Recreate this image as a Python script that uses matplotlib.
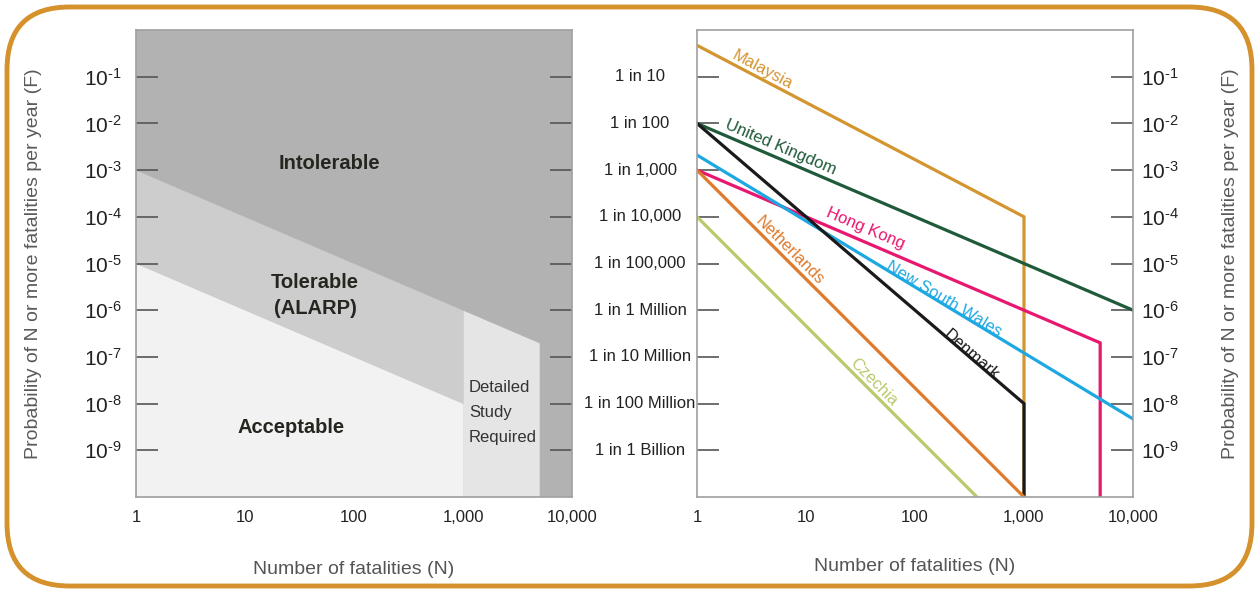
import matplotlib.pyplot as plt
from matplotlib.patches import FancyBboxPatch
from matplotlib.ticker import FixedLocator, NullLocator, NullFormatter

plt.rcParams['font.family'] = ['Liberation Sans', 'DejaVu Sans']
plt.rcParams['mathtext.fontset'] = 'custom'
plt.rcParams['mathtext.rm'] = 'Liberation Sans'
plt.rcParams['mathtext.it'] = 'Liberation Sans'
plt.rcParams['mathtext.bf'] = 'Liberation Sans:bold'

# ---- data ----
x_ticks = [1, 10, 100, 1000, 10000]
x_tick_labels = ['1', '10', '100', '1,000', '10,000']
y_ticks = [1e-1, 1e-2, 1e-3, 1e-4, 1e-5, 1e-6, 1e-7, 1e-8, 1e-9]
y_tick_labels = [r'10$^{\text{-%d}}$' % k for k in range(1, 10)]
odds_labels = ['1 in 10', '1 in 100', '1 in 1,000', '1 in 10,000', '1 in 100,000',
               '1 in 1 Million', '1 in 10 Million', '1 in 100 Million', '1 in 1 Billion']

# ALARP region boundaries (left panel)
tol_N = [1, 1000, 5000]
tol_F = [1e-3, 1e-6, 2e-7]
acc_N = [1, 1000]
acc_F = [1e-5, 1e-8]

# national criteria lines (right panel)
countries = ['Malaysia', 'United Kingdom', 'Hong Kong', 'New South Wales',
             'Denmark', 'Netherlands', 'Czechia']
line_N = {
    'Malaysia': [1, 1000, 1000],
    'United Kingdom': [1, 10000],
    'Hong Kong': [1, 5000, 5000],
    'New South Wales': [1, 10000],
    'Denmark': [1, 1000, 1000],
    'Netherlands': [1, 1000],
    'Czechia': [1, 370],
}
line_F = {
    'Malaysia': [0.47, 1e-4, 1e-10],
    'United Kingdom': [1e-2, 1e-6],
    'Hong Kong': [1e-3, 2e-7, 1e-10],
    'New South Wales': [2.1e-3, 4.7e-9],
    'Denmark': [1e-2, 1e-8, 1e-10],
    'Netherlands': [1e-3, 1e-10],
    'Czechia': [1e-4, 1e-10],
}
colors = {
    'Malaysia': '#d39530',
    'United Kingdom': '#1f5a3a',
    'Hong Kong': '#e8176f',
    'New South Wales': '#1ea8e2',
    'Denmark': '#1a1a1a',
    'Netherlands': '#de7a2c',
    'Czechia': '#b8ca6c',
}
# label position (N, F) and rotation
label_pos = {
    'Malaysia': (4.0, 0.14, -28),
    'United Kingdom': (5.9, 3.1e-3, -23),
    'Hong Kong': (35, 5.7e-5, -23),
    'New South Wales': (185, 1.7e-6, -31),
    'Denmark': (325, 1.1e-7, -41),
    'Netherlands': (7.1, 1.9e-5, -45),
    'Czechia': (42, 2.9e-8, -45),
}

W, H = 1256, 594
fig = plt.figure(figsize=(W / 100, H / 100), dpi=100)

# rounded orange frame
frame = FancyBboxPatch((7 / W, 8 / H), (W - 11) / W, (H - 15) / H,
                       boxstyle='round,pad=0,rounding_size=0.05',
                       transform=fig.transFigure, fill=False,
                       edgecolor='#d4912c', linewidth=3.5, clip_on=False,
                       mutation_aspect=W / H)
fig.patches.append(frame)

ax_bottom = (H - 497) / H
ax_h = 467 / H
ax1 = fig.add_axes([136 / W, ax_bottom, 436 / W, ax_h])
ax2 = fig.add_axes([697 / W, ax_bottom, 436 / W, ax_h])

for ax in (ax1, ax2):
    ax.set_xscale('log')
    ax.set_yscale('log')
    ax.set_xlim(1, 10000)
    ax.set_ylim(1e-10, 1)
    ax.xaxis.set_major_locator(FixedLocator(x_ticks))
    ax.set_xticklabels(x_tick_labels)
    ax.xaxis.set_minor_locator(FixedLocator(x_ticks[1:4]))
    ax.xaxis.set_minor_formatter(NullFormatter())
    ax.tick_params(axis='x', which='major', length=0, pad=9, labelsize=12, labelcolor='#222222')
    ax.tick_params(axis='x', which='minor', direction='in', length=15, width=1.5, color='#333333')
    ax.yaxis.set_major_locator(FixedLocator(y_ticks))
    ax.yaxis.set_minor_locator(NullLocator())
    ax.tick_params(axis='y', which='major', direction='in', length=16, width=1.2,
                   color='#555555', left=True, right=True, labelsize=15, labelcolor='#222222')
    for s in ax.spines.values():
        s.set_color('#a0a0a0')
        s.set_linewidth(1.2)
    ax.set_xlabel('Number of fatalities (N)', fontsize=14, color='#555555')

ax1.xaxis.set_label_coords(0.5, -0.136)
ax2.xaxis.set_label_coords(0.5, -0.13)

# ---- left panel: ALARP regions ----
ax1.set_facecolor('#b2b2b2')
ax1.fill_between(tol_N[:2], 1e-10, tol_F[:2], color='#cdcdcd', lw=0)
ax1.fill_between(tol_N[1:], 1e-10, tol_F[1:], color='#e5e5e5', lw=0)
ax1.fill_between(acc_N, 1e-10, acc_F, color='#f2f2f2', lw=0)
ax1.set_yticklabels(y_tick_labels)
ax1.tick_params(axis='y', pad=10)
ax1.set_ylabel('Probability of N or more fatalities per year (F)', fontsize=14,
               color='#5a5a5a')
ax1.yaxis.set_label_coords(-0.216, 0.5)
for yv, lab in zip(y_ticks, odds_labels):
    ax1.text(1.156, yv, lab, transform=ax1.get_yaxis_transform(), ha='center',
             va='center', fontsize=12, color='#222222')

ax1.text(60, 1.4e-3, 'Intolerable', ha='center', va='center', fontsize=14.5,
         fontweight='bold', color='#262620')
ax1.text(44, 2.1e-6, 'Tolerable\n(ALARP)', ha='center', va='center', fontsize=14.5,
         fontweight='bold', color='#262620', linespacing=1.45)
ax1.text(26.5, 3.1e-9, 'Acceptable', ha='center', va='center', fontsize=14.5,
         fontweight='bold', color='#262620')
ax1.text(1130, 6.4e-9, 'Detailed\nStudy\nRequired', ha='left', va='center',
         fontsize=12, color='#333333', linespacing=1.85)

# ---- right panel: national criteria ----
ax2.set_facecolor('white')
for c in countries:
    ax2.plot(line_N[c], line_F[c], color=colors[c], lw=2.3, solid_joinstyle='miter')
    lx, ly, rot = label_pos[c]
    ax2.text(lx, ly, c, color=colors[c], fontsize=12, rotation=rot,
             rotation_mode='anchor', ha='center', va='center')
ax2.yaxis.tick_right()
ax2.tick_params(axis='y', which='major', left=True, right=True, labelleft=False,
                labelright=True, pad=6)
ax2.set_yticklabels(y_tick_labels)
ax2.set_ylabel('Probability of N or more fatalities per year (F)', fontsize=14,
               color='#5a5a5a')
ax2.yaxis.set_label_position('right')
ax2.yaxis.set_label_coords(1.204, 0.5)

fig.savefig('out.png', dpi=100)
